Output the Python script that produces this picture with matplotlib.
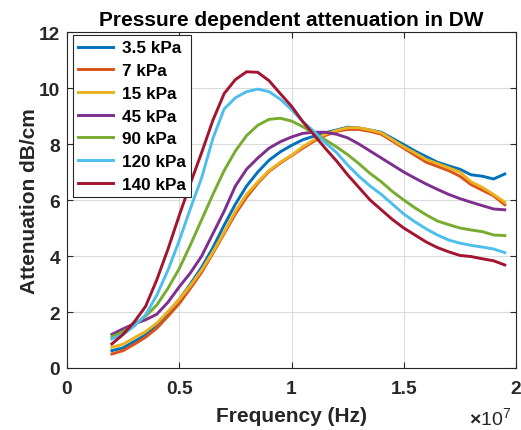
import matplotlib
matplotlib.use("Agg")
import matplotlib.pyplot as plt
import numpy as np

# Frequency points (MHz) and attenuation (dB/cm) per pressure level
freq_mhz = [2, 2.5, 3, 3.5, 4, 4.5, 5, 5.5, 6, 6.5, 7, 7.5, 8, 8.5, 9, 9.5, 10, 10.5,
            11, 11.5, 12, 12.5, 13, 13.5, 14, 14.5, 15, 15.5, 16, 16.5, 17, 17.5, 18, 18.5,
            19, 19.5]

att_3_5 = [0.62, 0.72, 0.95, 1.18, 1.55, 1.98, 2.45, 3.0, 3.6, 4.3, 5.1, 5.85, 6.5, 7.0,
           7.42, 7.72, 7.95, 8.15, 8.28, 8.4, 8.5, 8.6, 8.57, 8.5, 8.42, 8.2, 7.98, 7.75,
           7.55, 7.35, 7.22, 7.1, 6.9, 6.85, 6.75, 6.93]
att_7 = [0.5, 0.62, 0.85, 1.1, 1.42, 1.85, 2.3, 2.85, 3.42, 4.1, 4.8, 5.5, 6.1, 6.6,
         7.02, 7.32, 7.58, 7.85, 8.1, 8.3, 8.45, 8.52, 8.52, 8.45, 8.35, 8.1, 7.85, 7.6,
         7.35, 7.2, 7.05, 6.85, 6.55, 6.35, 6.15, 5.83]
att_15 = [0.74, 0.85, 1.08, 1.3, 1.6, 2.02, 2.45, 2.95, 3.5, 4.15, 4.85, 5.6, 6.2, 6.65,
          7.05, 7.35, 7.6, 7.9, 8.15, 8.35, 8.48, 8.58, 8.58, 8.5, 8.4, 8.15, 7.9, 7.68,
          7.45, 7.3, 7.15, 7.0, 6.65, 6.45, 6.2, 5.92]
att_45 = [1.2, 1.4, 1.58, 1.72, 1.92, 2.35, 2.9, 3.4, 4.0, 4.8, 5.6, 6.5, 7.1, 7.5,
          7.85, 8.08, 8.25, 8.38, 8.42, 8.42, 8.35, 8.22, 8.0, 7.75, 7.5, 7.25, 7.0, 6.78,
          6.57, 6.38, 6.2, 6.05, 5.92, 5.8, 5.68, 5.65]
att_90 = [1.12, 1.3, 1.55, 1.85, 2.25, 2.85, 3.55, 4.4, 5.3, 6.2, 7.05, 7.75, 8.3, 8.67,
          8.88, 8.92, 8.82, 8.62, 8.38, 8.15, 7.9, 7.62, 7.3, 6.95, 6.65, 6.3, 6.0, 5.72,
          5.47, 5.25, 5.12, 5.0, 4.93, 4.87, 4.75, 4.73]
att_120 = [1.04, 1.2, 1.5, 1.9, 2.6, 3.5, 4.55, 5.7, 6.8, 8.2, 9.25, 9.65, 9.87, 9.96,
           9.87, 9.6, 9.23, 8.8, 8.45, 8.05, 7.7, 7.25, 6.85, 6.5, 6.2, 5.85, 5.5, 5.22,
           4.97, 4.75, 4.57, 4.46, 4.38, 4.32, 4.25, 4.12]
att_140 = [0.86, 1.2, 1.65, 2.2, 3.15, 4.25, 5.45, 6.6, 7.7, 8.85, 9.8, 10.3, 10.58, 10.56,
           10.26, 9.8, 9.35, 8.8, 8.33, 7.85, 7.4, 6.9, 6.45, 6.0, 5.65, 5.3, 5.0, 4.75,
           4.5, 4.3, 4.15, 4.02, 3.98, 3.9, 3.83, 3.68]

labels = ["3.5 kPa", "7 kPa", "15 kPa", "45 kPa", "90 kPa", "120 kPa", "140 kPa"]
series = [att_3_5, att_7, att_15, att_45, att_90, att_120, att_140]

# MATLAB default line colours
colors = ["#0072BD", "#D95319", "#EDB120", "#7E2F8E", "#77AC30", "#4DBEEE", "#A2142F"]

plt.rcParams["font.family"] = ["Liberation Sans", "DejaVu Sans"]
plt.rcParams["font.weight"] = "bold"
plt.rcParams["mathtext.fontset"] = "custom"
plt.rcParams["mathtext.rm"] = "Liberation Sans"

axis_col = "#262626"

fig = plt.figure(figsize=(5.21, 4.31), dpi=100)
ax = fig.add_axes([67 / 521, 62 / 431, 449 / 521, 336 / 431])

freq_hz = np.array(freq_mhz) * 1e6
for vals, lab, col in zip(series, labels, colors):
    ax.plot(freq_hz, vals, color=col, lw=2.1, label=lab, solid_joinstyle="round")

ax.set_xlim(0, 2e7)
ax.set_ylim(0, 12)
ax.set_xticks([0, 0.5e7, 1e7, 1.5e7, 2e7])
ax.set_xticklabels(["0", "0.5", "1", "1.5", "2"])
ax.set_yticks(range(0, 13, 2))

ax.grid(True, color="#dcdcdc", lw=0.8)
ax.set_axisbelow(True)

for sp in ax.spines.values():
    sp.set_color(axis_col)
    sp.set_linewidth(0.8)
ax.tick_params(direction="in", length=4, width=0.8, colors=axis_col,
               top=True, right=True, labelsize=13.8)
ax.tick_params(axis="x", pad=9)
ax.tick_params(axis="y", pad=5)
for t in ax.get_xticklabels() + ax.get_yticklabels():
    t.set_fontweight("bold")

ax.set_title("Pressure dependent attenuation in DW", fontsize=15, fontweight="bold",
             color="black", pad=5)
ax.set_xlabel("Frequency (Hz)", fontsize=15, fontweight="bold", color=axis_col, labelpad=6)
ax.set_ylabel("Attenuation dB/cm", fontsize=15, fontweight="bold", color=axis_col, labelpad=0)

ax.text(0.895, -0.168, r"$\times\mathregular{10^{7}}$", transform=ax.transAxes,
        fontsize=14, color=axis_col, ha="left", va="baseline", fontweight="normal")

leg = ax.legend(loc="upper left", bbox_to_anchor=(0.013, 0.991), borderaxespad=0,
                fontsize=12.3, fancybox=False, framealpha=1, edgecolor=axis_col,
                handlelength=2.05, handletextpad=0.5, borderpad=0.32, labelspacing=0.45)
leg.get_frame().set_linewidth(0.8)
for t in leg.get_texts():
    t.set_fontweight("bold")

fig.savefig("out.png", dpi=100)
